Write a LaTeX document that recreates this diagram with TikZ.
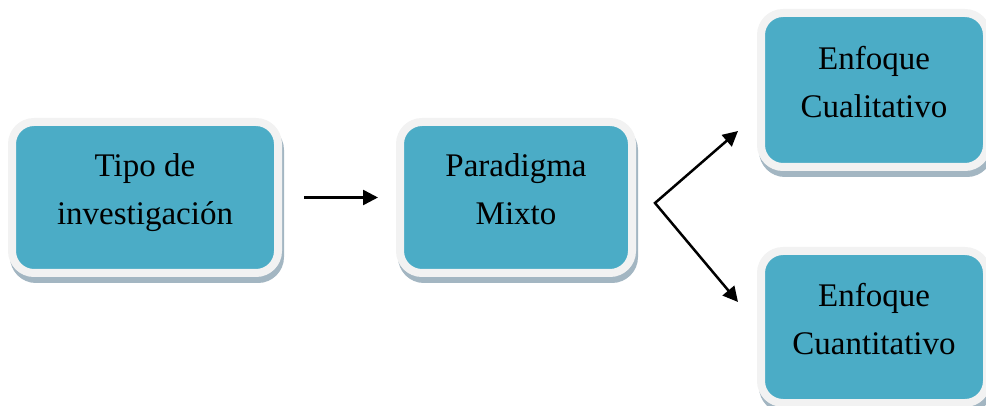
\documentclass[tikz,border=0pt]{standalone}
\usepackage{fontspec}
\setmainfont{Liberation Serif}
\usetikzlibrary{arrows.meta,shadows}
\definecolor{boxblue}{HTML}{4BACC6}
\definecolor{framegray}{HTML}{F2F2F2}
\definecolor{shadowgray}{HTML}{A3B6C2}
\begin{document}
\begin{tikzpicture}[x=1pt,y=-1pt,
  boxnode/.style={draw=framegray, line width=8pt, fill=boxblue, rounded corners=22pt,
    align=center, text=black, font=\fontsize{33}{48}\selectfont, text depth=17pt,
    drop shadow={shadow xshift=2pt, shadow yshift=-6pt, draw=shadowgray, fill=shadowgray, line width=8pt, opacity=1}},
  arrowline/.style={line width=2.5pt, -{Triangle[length=15pt,width=15pt]}}]
\useasboundingbox (0,0) rectangle (986,406);
\node[boxnode, minimum width=266pt, minimum height=151pt] (tipo) at (145,197.5) {Tipo de\\investigación};
\node[boxnode, minimum width=232pt, minimum height=151pt] (para) at (516,197.5) {Paradigma\\Mixto};
\node[boxnode, minimum width=226pt, minimum height=154pt] (cual) at (874,90) {Enfoque\\Cualitativo};
\node[boxnode, minimum width=226pt, minimum height=152pt] (cuan) at (874,327) {Enfoque\\Cuantitativo};
\draw[arrowline, shorten <=22pt, shorten >=18pt] (tipo.east) -- (para.west);
\coordinate (fork) at (655,203);
\coordinate (upTip) at (738,131);
\coordinate (downTip) at (738,302);
\draw[line width=2.5pt, line join=miter, {Triangle[length=15pt,width=15pt]}-{Triangle[length=15pt,width=15pt]}] (upTip) -- (fork) -- (downTip);
\end{tikzpicture}
\end{document}
